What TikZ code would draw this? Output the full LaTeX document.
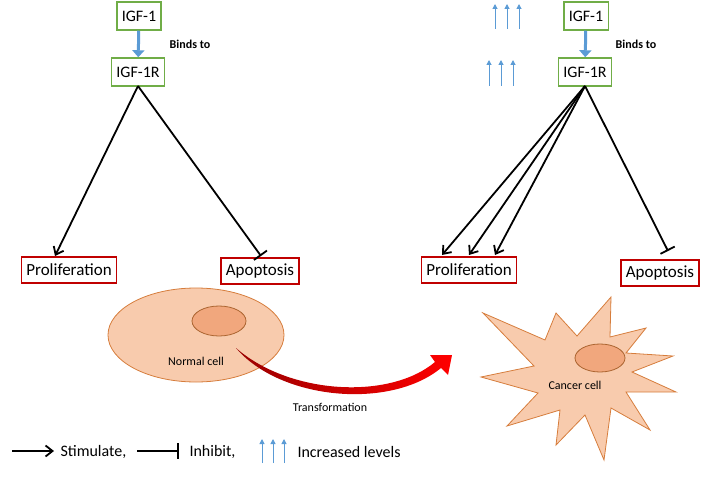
\documentclass[tikz,border=0pt]{standalone}
\usepackage{fontspec}
\setmainfont{Carlito}
\usetikzlibrary{arrows.meta}
\definecolor{gbox}{RGB}{112,173,71}
\definecolor{rbox}{RGB}{192,0,0}
\definecolor{bl}{RGB}{91,155,213}
\definecolor{cellf}{RGB}{248,203,173}
\definecolor{celld}{RGB}{214,125,60}
\definecolor{nucf}{RGB}{241,167,125}
\begin{document}
\begin{tikzpicture}[x=1pt,y=-1pt,
 gb/.style={draw=gbox,line width=1.5pt,fill=white,minimum height=28pt,inner xsep=5pt,font=\fontsize{16}{16}\selectfont},
 rb/.style={draw=rbox,line width=1.5pt,fill=white,minimum height=26pt,inner xsep=5pt,font=\fontsize{17}{17}\selectfont},
 stimf/.style={line width=1.8pt,-{Straight Barb[length=7pt,width=11pt]}},
 inh/.style={line width=1.8pt,-{Bar[width=16pt]}},
 bind/.style={draw=bl,line width=3pt,-{Triangle[length=7pt,width=12pt]}},
 up/.style={draw=bl,line width=1pt,-{Triangle[length=5pt,width=5pt]}},
 lbl/.style={font=\fontsize{12}{12}\selectfont\bfseries},
 leg/.style={font=\fontsize{16}{16}\selectfont,anchor=west}]
\useasboundingbox (0,0) rectangle (709,492);
% left
\node[gb] (a1) at (139,16) {IGF-1};
\node[gb] (a2) at (138,72) {IGF-1R};
\draw[bind] (a1) -- (a2);
\node[lbl] at (190,44) {Binds to};
\node[rb] (ap) at (69,270) {Proliferation};
\node[rb] (aa) at (260,271) {Apoptosis};
\coordinate (as) at (138,86);
\draw[stimf] (as) -- (55,256);
\draw[inh] (as) -- (261,256);
% right
\node[gb] (b1) at (586,16) {IGF-1};
\node[gb] (b2) at (585,72) {IGF-1R};
\draw[bind] (b1) -- (b2);
\node[lbl] at (636,44) {Binds to};
\foreach \x in {495,507,519} \draw[up] (\x,29) -- (\x,4);
\foreach \x in {489,501,513} \draw[up] (\x,86) -- (\x,60);
\node[rb] (bp) at (469,270) {Proliferation};
\node[rb] (ba) at (660,273) {Apoptosis};
\coordinate (bs) at (585,86);
\draw[stimf] (bs) -- (442,255);
\draw[stimf] (bs) -- (469,255);
\draw[stimf] (bs) -- (495,255);
\draw[inh] (bs) -- (668,251);
% normal cell
\draw[celld,fill=cellf,line width=0.8pt] (196,335) ellipse [x radius=88,y radius=47];
\draw[celld!80!black,fill=nucf,line width=0.8pt] (219,321) ellipse [x radius=27,y radius=15];
\node[font=\fontsize{12}{12}\selectfont] at (196,361) {Normal cell};
% cancer cell star
\draw[celld,fill=cellf,line width=0.8pt]
 (611,297) -- (610,337) -- (646,328) -- (626,353) -- (673,356) -- (632,372) -- (676,392)
 -- (626,392) -- (650,430) -- (611,408) -- (604,460) -- (585,415) -- (556,445)
 -- (560,410) -- (507,426) -- (538,393) -- (481,377) -- (534,366) -- (483,313) -- (545,340)
 -- (556,313) -- (577,336) -- cycle;
\draw[celld!80!black,fill=nucf,line width=0.8pt] (600,358) ellipse [x radius=25,y radius=14];
\node[font=\fontsize{12}{12}\selectfont] at (575,385) {Cancer cell};
% transformation arrow
\shade[left color=red!60!black,right color=red]
 (236,348) .. controls (290,395) and (390,400) .. (435,362)
 -- (430,355) -- (452,355) -- (448,375) -- (441,368)
 .. controls (390,410) and (280,400) .. (236,348) -- cycle;
\node[font=\fontsize{12}{12}\selectfont] at (330,407) {Transformation};
% legend
\coordinate (l1) at (12,451); \coordinate (l2) at (54,451);
\draw[stimf] (l1) -- (l2);
\node[leg] at (57,452) {Stimulate,};
\coordinate (l3) at (137,451); \coordinate (l4) at (179,451);
\draw[inh] (l3) -- (l4);
\node[leg] at (186,452) {Inhibit,};
\foreach \x in {262,273,284} \draw[up] (\x,463) -- (\x,439);
\node[leg] at (294,452) {Increased levels};
\end{tikzpicture}
\end{document}
